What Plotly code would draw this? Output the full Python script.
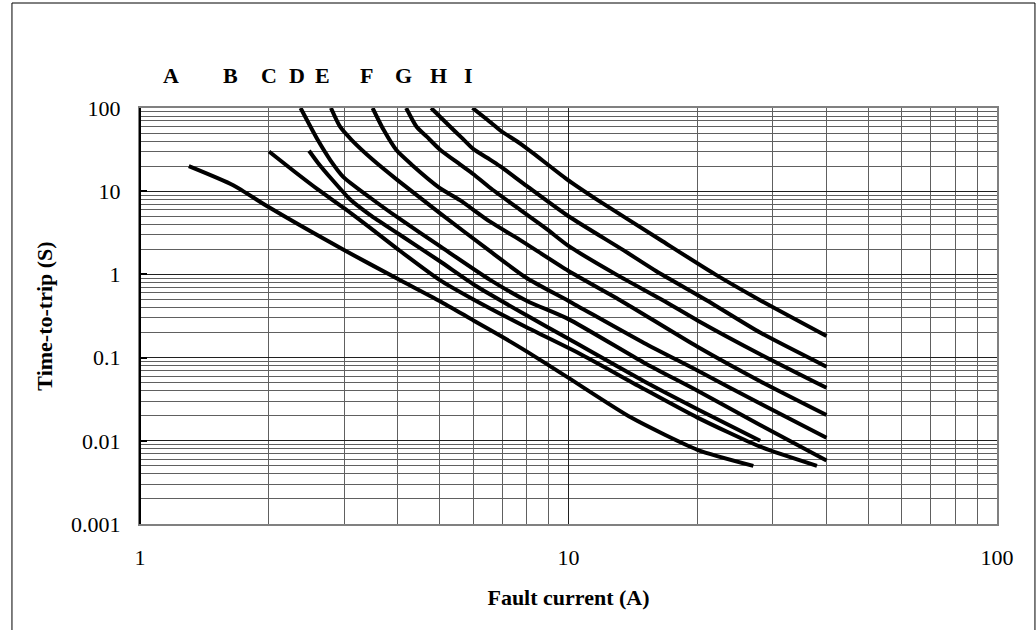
import plotly.graph_objects as go
import math

# ---- data ----
curve_names = ["A", "B", "C", "D", "E", "F", "G", "H", "I"]

a_x = [1.3, 1.65, 2, 3, 4, 5, 6, 7, 8, 10, 14, 20, 27]
a_y = [20, 11.8, 6.4, 1.95, 0.88, 0.48, 0.28, 0.178, 0.118, 0.057, 0.019, 0.0078, 0.005]

b_x = [2, 2.3, 2.6, 3, 3.5, 4, 5, 6, 8, 10.6, 15, 20, 28, 38]
b_y = [30, 17, 10.5, 6.2, 3.4, 2.0, 0.86, 0.5, 0.23, 0.112, 0.042, 0.019, 0.0085, 0.005]

c_x = [2.48, 2.6, 2.8, 3.09, 3.44, 4, 5, 6.1, 8, 10, 15, 20, 28]
c_y = [30.6, 22, 14, 8, 5.2, 3.1, 1.45, 0.72, 0.32, 0.168, 0.052, 0.024, 0.01]

d_x = [2.37, 2.6, 2.78, 2.98, 3.44, 4, 5, 6.56, 8, 10, 15, 20, 28, 40]
d_y = [100, 41.2, 23.7, 14.9, 8.4, 4.8, 2.2, 0.86, 0.48, 0.29, 0.087, 0.04, 0.0155, 0.0058]

e_x = [2.79, 2.93, 3.12, 3.5, 3.99, 5, 6.56, 8, 10, 15, 20, 28, 40]
e_y = [100, 59.6, 41.2, 23.7, 13.6, 5.5, 1.9, 0.9, 0.48, 0.15, 0.07, 0.028, 0.0109]

f_x = [3.49, 3.7, 3.97, 4.3, 5, 5.58, 6.56, 7.7, 10, 13.2, 20, 28, 40]
f_y = [100, 55, 31, 21, 11, 7.8, 4.3, 2.6, 1.1, 0.49, 0.135, 0.052, 0.0204]

g_x = [4.18, 4.42, 4.67, 5, 5.58, 6, 6.56, 7.7, 8.9, 10, 13, 16.6, 20, 28, 40]
g_y = [100, 59.6, 45.2, 32, 21, 16, 11, 6, 3.5, 2.2, 0.98, 0.49, 0.28, 0.11, 0.0434]

h_x = [4.78, 5.29, 5.63, 6, 6.56, 6.92, 8, 10, 13.4, 16, 21, 28, 40]
h_y = [100, 60, 44, 32, 24, 20, 11.5, 5.0, 1.97, 1.1, 0.49, 0.2, 0.0777]

i_x = [5.97, 6.68, 6.92, 7.7, 8.28, 9.9, 11.8, 16.4, 22, 28, 40]
i_y = [100, 63, 54, 37.6, 28.5, 14, 7.6, 2.59, 1.0, 0.49, 0.182]

series = [(a_x, a_y), (b_x, b_y), (c_x, c_y), (d_x, d_y), (e_x, e_y),
          (f_x, f_y), (g_x, g_y), (h_x, h_y), (i_x, i_y)]

# letters printed above the plot and the current at which each sits
label_text = ["A", "B", "C", "D", "E", "F", "G", "H", "I"]
label_current = [1.18, 1.63, 2.0, 2.32, 2.67, 3.37, 4.11, 4.96, 5.83]

y_tickvals = [0.001, 0.01, 0.1, 1, 10, 100]
y_ticktext = ["0.001", "0.01", "0.1", "1", "10", "100"]
x_tickvals = [1, 10, 100]
x_ticktext = ["1", "10", "100"]

FONT = "Times New Roman, Liberation Serif, serif"

fig = go.Figure()
for name, (xs, ys) in zip(curve_names, series):
    fig.add_trace(go.Scatter(
        x=xs, y=ys, mode="lines", name=name,
        line=dict(color="black", width=4, shape="spline", smoothing=0.6),
        showlegend=False, hoverinfo="skip"))

for t, xc in zip(label_text, label_current):
    fig.add_annotation(x=math.log10(xc), y=1.079, xref="x", yref="paper",
                       yanchor="middle", xanchor="center",
                       text="<b>%s</b>" % t, showarrow=False,
                       font=dict(family=FONT, size=22, color="black"))

fig.update_layout(
    width=1036, height=630,
    margin=dict(l=140, r=39, t=108, b=106),
    paper_bgcolor="white", plot_bgcolor="white",
    font=dict(family=FONT, size=22, color="black"),
    xaxis=dict(
        type="log", range=[0, 2],
        tickvals=x_tickvals, ticktext=x_ticktext,
        ticks="", ticklabelstandoff=13,
        showgrid=True, gridcolor="#202020", gridwidth=1,
        minor=dict(dtick="D1", showgrid=True, gridcolor="#606060", gridwidth=1, ticks=""),
        showline=True, linecolor="#808080", linewidth=2, mirror=True,
        zeroline=False,
        title=dict(text="<b>Fault current (A)</b>", font=dict(family=FONT, size=22), standoff=20),
    ),
    yaxis=dict(
        type="log", range=[-3, 2],
        tickvals=y_tickvals, ticktext=y_ticktext,
        ticks="inside", ticklen=7, tickcolor="black", tickwidth=1.5,
        ticklabelstandoff=13,
        showgrid=True, gridcolor="#202020", gridwidth=1,
        minor=dict(dtick="D1", showgrid=True, gridcolor="#606060", gridwidth=1, ticks=""),
        showline=True, linecolor="#808080", linewidth=2, mirror=True,
        zeroline=False,
        title=dict(text="<b>Time-to-trip (S)</b>", font=dict(family=FONT, size=22), standoff=12),
    ),
)

# outer frame around the whole chart
fig.add_shape(type="rect", xref="paper", yref="paper",
              x0=-0.1494, x1=1.0443, y0=-0.40, y1=1.2524,
              line=dict(color="black", width=1), fillcolor="rgba(0,0,0,0)", layer="above")
# dark left axis edge
fig.add_shape(type="line", xref="paper", yref="paper", x0=0, x1=0, y0=0, y1=1,
              line=dict(color="black", width=2), layer="above")

fig.write_html("out.html", config={"displayModeBar": False},
               post_script="document.body.style.margin='0';document.body.style.overflow='hidden';")
